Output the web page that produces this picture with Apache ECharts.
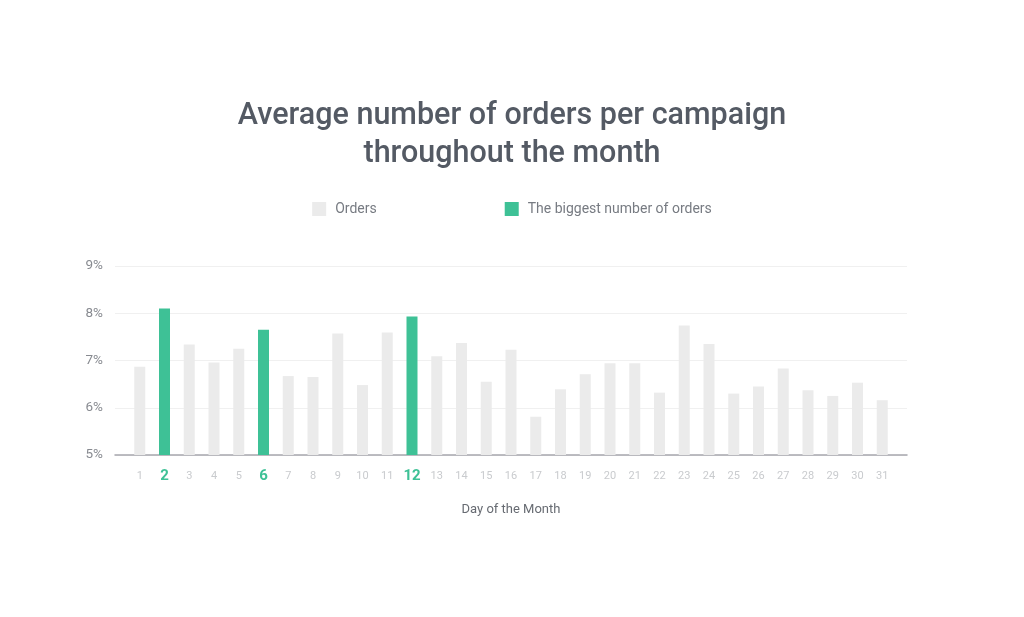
<!DOCTYPE html>
<html>
<head>
<meta charset="utf-8">
<script src="https://cdn.jsdelivr.net/npm/echarts@6/dist/echarts.min.js"></script>
<style>html,body{margin:0;padding:0;background:#fff}#c{width:1024px;height:617px}</style>
</head>
<body>
<div id="c"></div>
<script>
const days = [1,2,3,4,5,6,7,8,9,10,11,12,13,14,15,16,17,18,19,20,21,22,23,24,25,26,27,28,29,30,31];
const orders = [6.87,8.10,7.34,6.96,7.25,7.65,6.67,6.65,7.57,6.48,7.59,7.93,7.09,7.37,6.55,7.23,5.81,6.39,6.71,6.94,6.94,6.32,7.74,7.35,6.30,6.45,6.83,6.37,6.25,6.53,6.16];
const biggestDays = [2,6,12];
const yTicks = [5,6,7,8,9];

const normalData = [], bigData = [];
days.forEach((d, i) => {
  if (biggestDays.includes(d)) bigData.push([d, orders[i]]);
  else normalData.push([d, orders[i]]);
});

const chart = echarts.init(document.getElementById('c'));
chart.setOption({
  backgroundColor: '#ffffff',
  textStyle: { fontFamily: 'Roboto' },
  title: {
    text: 'Average number of orders per campaign\nthroughout the month',
    left: 'center',
    top: 92,
    textStyle: { fontFamily: 'Roboto', fontSize: 30.5, fontWeight: 500, color: '#545a64', lineHeight: 38 }
  },
  legend: {
    top: 197,
    left: 'center',
    itemWidth: 14,
    itemHeight: 14,
    itemGap: 128,
    icon: 'rect',
    textStyle: { fontFamily: 'Roboto', fontSize: 14, color: '#777b82', padding: [0, 0, 0, 4] },
    data: ['Orders', 'The biggest number of orders']
  },
  grid: { left: 115, right: 117, top: 266, bottom: 162 },
  xAxis: {
    type: 'value',
    min: 0,
    max: 32,
    interval: 1,
    name: 'Day of the Month',
    nameLocation: 'middle',
    nameGap: 48,
    nameTextStyle: { fontFamily: 'Roboto', fontSize: 13, color: '#676b72' },
    axisLine: { show: true, lineStyle: { color: '#a6a6ad', width: 1.5 } },
    axisTick: { show: false },
    splitLine: { show: false },
    axisLabel: {
      margin: 12,
      showMinLabel: true,
      showMaxLabel: true,
      formatter: function (v) {
        if (v < 1 || v > 31) return '';
        return biggestDays.includes(v) ? '{b|' + v + '}' : '{n|' + v + '}';
      },
      rich: {
        n: { fontFamily: 'Roboto', fontSize: 11, color: '#c9cbce', lineHeight: 18, verticalAlign: 'middle' },
        b: { fontFamily: 'Roboto', fontSize: 15, fontWeight: 'bold', color: '#3ec196', lineHeight: 18, verticalAlign: 'middle' }
      }
    }
  },
  yAxis: {
    type: 'value',
    min: yTicks[0],
    max: yTicks[yTicks.length - 1],
    interval: 1,
    axisLine: { show: false },
    axisTick: { show: false },
    axisLabel: { formatter: '{value}%', fontFamily: 'Roboto', fontSize: 13.5, color: '#878a90', margin: 12 },
    splitLine: { lineStyle: { color: '#f0f0f0', width: 1 } }
  },
  series: [
    {
      name: 'Orders',
      type: 'bar',
      data: normalData,
      barWidth: 11,
      barGap: '-100%',
      itemStyle: { color: '#ebebeb' },
      z: 2
    },
    {
      name: 'The biggest number of orders',
      type: 'bar',
      data: bigData,
      barWidth: 11,
      barGap: '-100%',
      itemStyle: { color: '#3ec196' },
      z: 3
    }
  ]
});
</script>
</body>
</html>
